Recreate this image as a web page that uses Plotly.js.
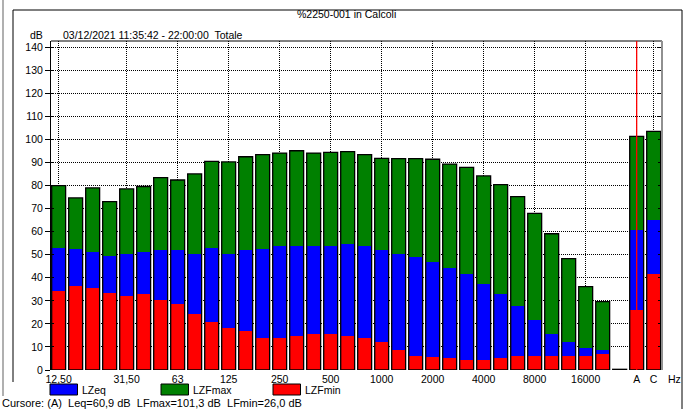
<!DOCTYPE html>
<html>
<head>
<meta charset="utf-8">
<script src="https://cdn.plot.ly/plotly-3.0.1.min.js"></script>
<style>html,body{margin:0;padding:0;background:#fff;}#chart{width:691px;height:409px;}</style>
</head>
<body>
<div id="chart"></div>
<script>
// ---- data ----
const bands = ["12,50","16","20","25","31,50","40","50","63","80","100","125","160","200","250","315","400","500","630","800","1000","1250","1600","2000","2500","3150","4000","5000","6300","8000","10000","12500","16000","20000","","A","C"];
const tickLabels = ["12,50","31,50","63","125","250","500","1000","2000","4000","8000","16000","A","C"];
const LZFmax = [80.0,74.7,79.0,73.0,78.6,79.6,83.4,82.4,85.1,90.5,90.3,92.5,93.4,94.1,95.1,94.1,94.4,94.7,93.4,91.8,91.7,91.7,91.4,89.3,87.9,84.2,80.4,75.2,67.9,59.1,48.3,36.2,29.7,0.3,101.3,103.5];
const LZeq   = [53.1,52.7,51.4,49.6,50.2,51.1,52.0,52.0,50.2,53.1,50.5,52.0,52.7,54.0,54.0,54.0,54.0,54.6,53.7,52.0,50.2,48.8,47.0,44.4,41.5,37.5,33.1,27.9,21.5,15.5,12.0,9.7,8.5,null,60.9,65.0];
const LZFmin = [34.4,36.6,35.7,33.6,32.3,33.1,30.5,28.8,24.5,21.0,18.4,17.1,14.0,13.7,14.6,15.8,15.5,14.9,13.7,12.0,8.5,5.9,5.5,5.0,4.2,4.5,5.3,5.9,5.9,6.2,6.2,6.2,6.8,null,26.0,41.8];
const seriesNames = ["LZeq","LZFmax","LZFmin"];
const cursorText = "Cursore: (A)&nbsp; Leq=60,9 dB&nbsp; LFmax=101,3 dB&nbsp; LFmin=26,0 dB";
const titleText = "%2250-001 in Calcoli";
const subTitle = "03/12/2021 11:35:42 - 22:00:00&nbsp; Totale";
const cursorBand = "A";

// ---- layout geometry ----
const W = 691, H = 409;
const M = {l: 51, r: 29, t: 41, b: 39};
const PW = W - M.l - M.r, PH = H - M.t - M.b;
const px = x => (x - M.l) / PW;
const py = y => 1 - (y - M.t) / PH;

const idx = bands.map((b, i) => i);
const tickVals = tickLabels.map(t => bands.indexOf(t));
const FONT = "Liberation Sans, Arial, sans-serif";
const FS = 10.5;
const BW = 0.82;
const DOT = "1px,1px";

const cGreen = "#008000", cBlue = "#0000ff", cRed = "#ff0000";

const traces = [
  {type: "bar", x: idx, y: LZFmax, width: BW, marker: {color: cGreen, line: {width: 0}}, name: seriesNames[1], showlegend: false},
  {type: "bar", x: idx, y: LZeq, width: BW, marker: {color: cBlue, line: {width: 0}}, name: seriesNames[0], showlegend: false},
  {type: "bar", x: idx, y: LZFmin, width: BW, marker: {color: cRed, line: {width: 0}}, name: seriesNames[2], showlegend: false},
  {type: "bar", x: idx, y: LZFmax, width: BW, marker: {color: "rgba(0,0,0,0)", line: {width: 1.3, color: "#000"}}, showlegend: false, hoverinfo: "skip"}
];

const ann = (text, x, y, xanchor, extra) => Object.assign({
  text: text, xref: "paper", yref: "paper", x: px(x), y: py(y), xanchor: xanchor, yanchor: "middle",
  showarrow: false, font: {family: FONT, size: FS, color: "#000"}
}, extra || {});

const annotations = [
  ann(titleText, 346, 14, "center"),
  ann("dB", 28, 35, "left"),
  ann(subTitle, 61, 35, "left"),
  ann("Hz", 666, 378.5, "left"),
  ann(seriesNames[0], 80, 389.5, "left"),
  ann(seriesNames[1], 191, 389.5, "left"),
  ann(seriesNames[2], 303, 389.5, "left"),
  ann(cursorText, 0, 403, "left", {font: {family: FONT, size: 11, color: "#000"}})
];

const rectPx = (x0, y0, x1, y1, fill, lineColor, lw) => ({
  type: "rect", xref: "paper", yref: "paper", x0: px(x0), x1: px(x1), y0: py(y1), y1: py(y0),
  fillcolor: fill, line: {color: lineColor, width: lw}, layer: "above"
});
const linePx = (x0, y0, x1, y1, color, lw) => ({
  type: "line", xref: "paper", yref: "paper", x0: px(x0), x1: px(x1), y0: py(y0), y1: py(y1),
  line: {color: color, width: lw}, layer: "above"
});

const shapes = [
  // legend swatches
  rectPx(50, 384, 77.5, 395, cBlue, "#000", 1),
  rectPx(161, 384, 188.5, 395, cGreen, "#000", 1),
  rectPx(273, 384, 300.5, 395, cRed, "#000", 1),
  // plot frame: top black, right gray
  {type: "line", xref: "paper", yref: "paper", x0: 0, x1: 1, y0: 1, y1: 1, line: {color: "#000", width: 1}, layer: "above"},
  {type: "line", xref: "paper", yref: "paper", x0: 1, x1: 1, y0: 0, y1: 1, line: {color: "#909090", width: 2}, layer: "above"},
  // cursor line at band A
  {type: "line", xref: "x", yref: "paper", x0: bands.indexOf(cursorBand), x1: bands.indexOf(cursorBand), y0: 0, y1: 1, line: {color: cRed, width: 1.3}, layer: "above"},
  // outer window frame
  linePx(13, 10, 682, 10, "#000", 1),
  linePx(682, 10, 682, 410, "#000", 1),
  linePx(13, 10, 13, 382, "#000", 1),
  linePx(3, 0, 3, 396, "#b0b0b0", 2)
];

const layout = {
  width: W, height: H,
  margin: M,
  paper_bgcolor: "#fff", plot_bgcolor: "#fff",
  barmode: "overlay",
  bargap: 0,
  showlegend: false,
  font: {family: FONT, size: FS, color: "#000"},
  xaxis: {
    range: [-0.45, 35.49],
    tickmode: "array", tickvals: tickVals, ticktext: tickLabels,
    showgrid: true, gridcolor: "#000", griddash: DOT, gridwidth: 1,
    zeroline: false, showline: false, ticks: "", ticklen: 0,
    ticklabelstandoff: 1,
    tickfont: {family: FONT, size: FS, color: "#000"},
    fixedrange: true
  },
  yaxis: {
    range: [0, 142.7],
    tickmode: "linear", tick0: 0, dtick: 10,
    showgrid: true, gridcolor: "#000", griddash: DOT, gridwidth: 1,
    zeroline: false, showline: true, linecolor: "#000", linewidth: 1,
    ticks: "outside", ticklen: 5, tickcolor: "#000", tickwidth: 1,
    tickfont: {family: FONT, size: FS, color: "#000"},
    fixedrange: true
  },
  yaxis2: {
    overlaying: "y", side: "left", range: [0, 142.7], tickmode: "linear", tick0: 0, dtick: 10,
    showgrid: false, zeroline: false, showline: false, showticklabels: false,
    ticks: "inside", ticklen: 3, tickcolor: "#000", tickwidth: 1, fixedrange: true
  },
  yaxis3: {
    overlaying: "y", side: "right", range: [0, 142.7], tickmode: "linear", tick0: 0, dtick: 10,
    showgrid: false, zeroline: false, showline: false, showticklabels: false,
    ticks: "inside", ticklen: 4, tickcolor: "#000", tickwidth: 1, fixedrange: true
  },
  annotations: annotations,
  shapes: shapes
};

// invisible helper traces that activate the overlay axes (tick marks only)
traces.push({type: "scatter", x: [0], y: [0], yaxis: "y2", mode: "markers", marker: {opacity: 0}, showlegend: false, hoverinfo: "skip"});
traces.push({type: "scatter", x: [0], y: [0], yaxis: "y3", mode: "markers", marker: {opacity: 0}, showlegend: false, hoverinfo: "skip"});

Plotly.newPlot("chart", traces, layout, {staticPlot: true, displayModeBar: false});
</script>
</body>
</html>
